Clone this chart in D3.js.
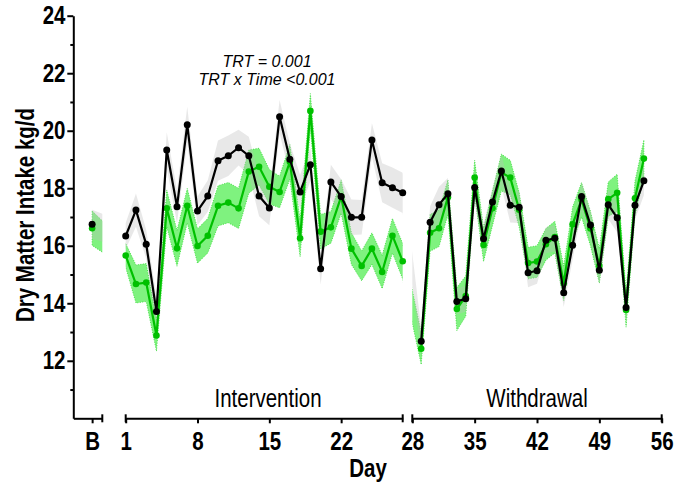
<!DOCTYPE html>
<html>
<head>
<meta charset="utf-8">
<script src="https://cdn.jsdelivr.net/npm/d3@7/dist/d3.min.js"></script>
<style>
  body { margin: 0; background: #fff; }
  svg { display: block; }
</style>
</head>
<body>
<svg id="chart" width="677" height="486"></svg>
<script>
// ---- data: daily dry matter intake (kg/d), mean and SE per group ----
const baselineDay = -1;             // plotted on the "B" segment
const interventionDays = [1,2,3,4,5,6,7,8,9,10,11,12,13,14,15,16,17,18,19,20,21,22,23,24,25,26,27,28];
const withdrawalDays = [29,30,31,32,33,34,35,36,37,38,39,40,41,42,43,44,45,46,47,48,49,50,51,52,53,54];

// control (black)
const ctlBaseline = 16.75, ctlBaselineSE = 0.5;
const ctlIntervention = [16.34,17.24,16.05,13.71,19.33,17.36,20.21,17.21,17.73,18.96,19.13,19.41,19.13,17.73,
                         17.31,20.49,19.01,17.87,18.82,15.20,18.22,17.71,16.99,16.99,19.68,18.19,18.02,17.84];
const ctlInterventionSE = [0.45,0.58,0.5,0.5,0.62,0.58,0.62,0.5,0.55,0.7,0.7,0.62,0.66,0.7,
                           0.6,0.58,0.55,0.6,0.58,0.55,0.6,0.6,0.62,0.6,0.58,0.68,0.7,0.7];
const ctlWithdrawal = [12.68,16.82,17.43,17.81,14.06,14.16,18.03,16.24,17.52,18.60,17.41,17.34,15.06,
                       15.13,16.19,16.26,14.37,16.02,17.71,16.72,15.15,17.43,16.97,13.85,17.41,18.26];
const ctlWithdrawalSE = [0.45,0.55,0.62,0.55,0.45,0.45,0.5,0.5,0.5,0.55,0.6,0.55,0.5,
                         0.45,0.45,0.45,0.5,0.5,0.5,0.5,0.5,0.5,0.5,0.45,0.5,0.5];

// treatment (green)
const trtBaseline = 16.61, trtBaselineSE = 0.6;
const trtIntervention = [15.66,14.67,14.72,12.88,17.30,15.91,17.39,15.99,16.35,17.39,17.50,17.30,18.58,18.75,
                         18.05,17.87,18.92,16.26,20.69,16.49,16.64,17.71,15.90,15.30,15.90,15.09,16.35,15.46];
const trtInterventionSE = [0.42,0.66,0.66,0.55,0.64,0.62,0.6,0.6,0.6,0.7,0.7,0.7,0.75,0.64,
                           0.6,0.55,0.6,0.64,0.6,0.6,0.55,0.58,0.55,0.52,0.55,0.58,0.6,0.62];
const trtWithdrawal = [12.42,16.45,16.61,17.69,13.80,14.25,18.37,16.03,17.30,18.55,18.37,17.25,15.40,
                       15.45,16.05,16.30,14.70,16.75,17.60,16.60,15.30,17.62,17.84,13.77,17.65,19.03];
const trtWithdrawalSE = [0.55,0.64,0.64,0.6,0.75,0.7,0.6,0.58,0.6,0.64,0.6,0.6,0.55,
                         0.55,0.55,0.55,0.6,0.6,0.6,0.6,0.6,0.6,0.65,0.6,0.6,0.65];

// axis ticks
const yMajorTicks = [12,14,16,18,20,22,24];
const yMinorTicks = [11,13,15,17,19,21,23];
const interventionTicks = [1,8,15,22];
const withdrawalTicks = [28,35,42,49,56];

// ---- scales ----
const svg = d3.select("#chart");
const y = d3.scaleLinear().domain([10, 24]).range([418.3, 15.7]);
const xB = d3.scaleLinear().domain([-2.85, 0]).range([73.3, 102.3]);
const xI = d3.scaleLinear().domain([1, 28]).range([125.7, 402.7]);
const xW = d3.scaleLinear().domain([28, 56]).range([412.3, 661.7]);
const axisY = y(10);

const NARROW = 0.82;            // horizontal squeeze for the condensed label face
const GREEN = "#00c000";

function series(base, baseSE, inter, interSE, wd, wdSE) {
  const b = [{ px: xB(baselineDay), m: base, se: baseSE }];
  const i = interventionDays.map((d, k) => ({ px: xI(d), m: inter[k], se: interSE[k] }));
  const w = withdrawalDays.map((d, k) => ({ px: xW(d), m: wd[k], se: wdSE[k] }));
  return { b, i, w, all: b.concat(i, w) };
}
const ctl = series(ctlBaseline, ctlBaselineSE, ctlIntervention, ctlInterventionSE, ctlWithdrawal, ctlWithdrawalSE);
const trt = series(trtBaseline, trtBaselineSE, trtIntervention, trtInterventionSE, trtWithdrawal, trtWithdrawalSE);

// bands run continuously and are clipped to the three axis segments
const defs = svg.append("defs");
const clip = defs.append("clipPath").attr("id", "segments");
[xB, xI, xW].forEach(s => {
  const r = s.range();
  clip.append("rect").attr("x", r[0]).attr("y", 0).attr("width", r[1] - r[0]).attr("height", axisY);
});

const band = d3.area().x(d => d.px).y0(d => y(d.m - d.se)).y1(d => y(d.m + d.se));
const line = d3.line().x(d => d.px).y(d => y(d.m));

const plot = svg.append("g").attr("clip-path", "url(#segments)");
plot.append("path").datum(trt.all).attr("d", band)
  .attr("fill", "rgb(0,230,0)").attr("fill-opacity", 0.5)
  .attr("stroke", "#2fd82f").attr("stroke-width", 0.8).attr("stroke-dasharray", "1,1.5");
plot.append("path").datum(ctl.all).attr("d", band)
  .attr("fill", "rgb(190,190,190)").attr("fill-opacity", 0.35);

function drawSeries(s, color, r) {
  const g = svg.append("g");
  [s.i, s.w].forEach(seg => {
    g.append("path").datum(seg).attr("d", line)
      .attr("fill", "none").attr("stroke", color).attr("stroke-width", 2.2)
      .attr("stroke-linejoin", "round");
  });
  g.selectAll("circle").data(s.all).join("circle")
    .attr("cx", d => d.px).attr("cy", d => y(d.m)).attr("r", r).attr("fill", color);
}
drawSeries(trt, GREEN, 3.3);
drawSeries(ctl, "#000", 3.5);

// ---- axes ----
const FONT = "'Liberation Sans', Arial, Helvetica, sans-serif";

function styleAxis(g) {
  g.selectAll("path, line").attr("stroke", "#000").attr("stroke-width", 2);
  g.selectAll("text").attr("fill", "#000").style("font-family", FONT)
    .style("font-size", "25px").style("font-weight", "bold");
}

const gy = svg.append("g").attr("transform", `translate(${xB.range()[0]},0)`)
  .call(d3.axisLeft(y).tickValues(yMajorTicks).tickSize(6).tickSizeOuter(0));
styleAxis(gy);
gy.selectAll("text").attr("x", -7.8 / NARROW).attr("transform", `scale(${NARROW},1)`);
const gyMinor = svg.append("g").attr("transform", `translate(${xB.range()[0]},0)`)
  .call(d3.axisLeft(y).tickValues(yMinorTicks).tickSize(3).tickSizeOuter(0).tickFormat(""));
gyMinor.select(".domain").remove();
styleAxis(gyMinor);

function xAxis(scale, ticks, fmt) {
  const g = svg.append("g").attr("transform", `translate(0,${axisY})`)
    .call(d3.axisBottom(scale).tickValues(ticks).tickSize(5).tickSizeOuter(0).tickFormat(fmt));
  styleAxis(g);
  g.selectAll("text").attr("y", 31.7).attr("dy", 0).attr("transform", `scale(${NARROW},1)`);
  return g;
}
const gB = xAxis(xB, [baselineDay], () => "B");
const gI = xAxis(xI, interventionTicks, d3.format("d"));
gI.selectAll(".tick").filter(d => d === 28).select("text").remove();
const gW = xAxis(xW, withdrawalTicks, d3.format("d"));

// end caps of the axis segments
const caps = [xB.range()[1], xI.range()[0], xI.range()[1], xW.range()[0], xW.range()[1]];
svg.append("g").selectAll("line").data(caps).join("line")
  .attr("x1", d => d).attr("x2", d => d)
  .attr("y1", axisY - 4).attr("y2", axisY + 4)
  .attr("stroke", "#000").attr("stroke-width", 2);

// ---- labels ----
function label(text, x, yPos, opts = {}) {
  const t = svg.append("text")
    .attr("transform", `translate(${x},${yPos})${opts.rotate ? " rotate(-90)" : ""} scale(${opts.sx || NARROW},1)`)
    .attr("text-anchor", "middle")
    .style("font-family", FONT)
    .style("font-size", (opts.size || 25) + "px")
    .style("font-weight", opts.bold ? "bold" : "normal")
    .style("font-style", opts.italic ? "italic" : "normal")
    .attr("fill", "#000")
    .text(text);
  return t;
}
label("Dry Matter Intake kg/d", 34, 215, { bold: true, rotate: true });
label("Day", 368, 477, { bold: true });
label("Intervention", 268, 407);
label("Withdrawal", 537, 407);
label("TRT = 0.001", 267, 66.7, { italic: true, size: 16, sx: 1 });
label("TRT x Time <0.001", 267, 84.5, { italic: true, size: 16, sx: 1 });
</script>
</body>
</html>
